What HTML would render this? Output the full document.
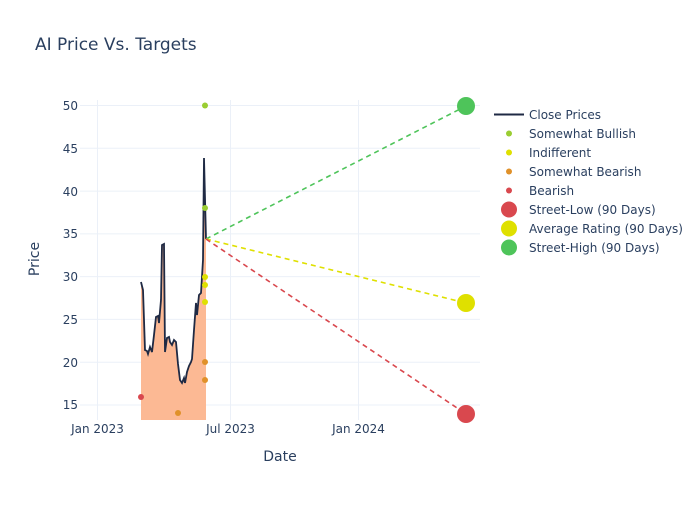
<!DOCTYPE html>
<html><head><meta charset="utf-8"><style>
body{margin:0;background:#fff;}
svg text{font-family:"DejaVu Sans","Liberation Sans",sans-serif;fill:#2a3f5f;}
</style></head><body>
<svg width="700" height="500" xmlns="http://www.w3.org/2000/svg">
<rect width="700" height="500" fill="#fff"/>
<text x="35" y="50" font-size="17">AI Price Vs. Targets</text>
<g stroke="#ebf0f8" stroke-width="1">
<line x1="80" x2="480" y1="105.5" y2="105.5"/>
<line x1="80" x2="480" y1="148.3" y2="148.3"/>
<line x1="80" x2="480" y1="191.1" y2="191.1"/>
<line x1="80" x2="480" y1="233.9" y2="233.9"/>
<line x1="80" x2="480" y1="276.6" y2="276.6"/>
<line x1="80" x2="480" y1="319.4" y2="319.4"/>
<line x1="80" x2="480" y1="362.2" y2="362.2"/>
<line x1="80" x2="480" y1="405" y2="405"/>
<line x1="97.5" x2="97.5" y1="100" y2="420"/>
<line x1="230.5" x2="230.5" y1="100" y2="420"/>
<line x1="358.5" x2="358.5" y1="100" y2="420"/>
</g>
<g font-size="12" text-anchor="end">
<text x="78" y="110">50</text><text x="78" y="153">45</text><text x="78" y="196">40</text>
<text x="78" y="238">35</text><text x="78" y="281">30</text><text x="78" y="324">25</text>
<text x="78" y="367">20</text><text x="78" y="409">15</text>
</g>
<g font-size="12" text-anchor="middle">
<text x="97.5" y="433">Jan 2023</text><text x="230.5" y="433">Jul 2023</text><text x="358.5" y="433">Jan 2024</text>
</g>
<text x="280" y="461" font-size="14" text-anchor="middle">Date</text>
<text x="39" y="259" font-size="14" text-anchor="middle" transform="rotate(-90 39 259)">Price</text>
<path d="M141,420 L141,282 143,290 145,350 147,351 148,354 150,347 152,352 154,335 156,317 158,316 159,323 161,300 162,245 164,244 165,352 167,338 169,337 170,342 172,345 174,340 176,342 178,364 180,380 182,383 184,378 185,383 187,372 189,366 191,362 192,359 194,330 196,303 197,315 199,295 201,293 203,260 204,158 206,239 L206,420 Z" fill="#fcb994" stroke="none"/>
<polyline points="141,282 143,290 145,350 147,351 148,354 150,347 152,352 154,335 156,317 158,316 159,323 161,300 162,245 164,244 165,352 167,338 169,337 170,342 172,345 174,340 176,342 178,364 180,380 182,383 184,378 185,383 187,372 189,366 191,362 192,359 194,330 196,303 197,315 199,295 201,293 203,260 204,158 206,239" fill="none" stroke="#1f2a44" stroke-width="1.8"/>
<g stroke-width="1.6" stroke-dasharray="5,4" fill="none">
<line x1="206" y1="239" x2="466" y2="106" stroke="#4ec45a"/>
<line x1="206" y1="239" x2="466" y2="303" stroke="#dfe000"/>
<line x1="206" y1="239" x2="466" y2="414" stroke="#d9484e"/>
</g>
<g>
<circle cx="205" cy="105.5" r="3" fill="#9acd32"/><circle cx="205" cy="208" r="3" fill="#9acd32"/>
<circle cx="205" cy="277" r="3" fill="#dfe000"/><circle cx="205" cy="285" r="3" fill="#dfe000"/><circle cx="205" cy="302" r="3" fill="#dfe000"/>
<circle cx="205" cy="362" r="3" fill="#e0912a"/><circle cx="205" cy="380" r="3" fill="#e0912a"/><circle cx="178" cy="413" r="3" fill="#e0912a"/>
<circle cx="141" cy="397" r="3" fill="#d9484e"/>
<circle cx="466" cy="106" r="9" fill="#4ec45a"/><circle cx="466" cy="303" r="9" fill="#dfe000"/><circle cx="466" cy="414" r="9" fill="#d9484e"/>
</g>
<g font-size="12">
<line x1="494" x2="524" y1="114.5" y2="114.5" stroke="#1f2a44" stroke-width="2"/>
<text x="529" y="119">Close Prices</text>
<circle cx="509" cy="133.5" r="3" fill="#9acd32"/><text x="529" y="138">Somewhat Bullish</text>
<circle cx="509" cy="152.5" r="3" fill="#dfe000"/><text x="529" y="157">Indifferent</text>
<circle cx="509" cy="171.5" r="3" fill="#e0912a"/><text x="529" y="176">Somewhat Bearish</text>
<circle cx="509" cy="190.5" r="3" fill="#d9484e"/><text x="529" y="195">Bearish</text>
<circle cx="509" cy="209.5" r="8" fill="#d9484e"/><text x="529" y="214">Street-Low (90 Days)</text>
<circle cx="509" cy="228.5" r="8" fill="#dfe000"/><text x="529" y="233">Average Rating (90 Days)</text>
<circle cx="509" cy="247.5" r="8" fill="#4ec45a"/><text x="529" y="252">Street-High (90 Days)</text>
</g>
</svg>
</body></html>
